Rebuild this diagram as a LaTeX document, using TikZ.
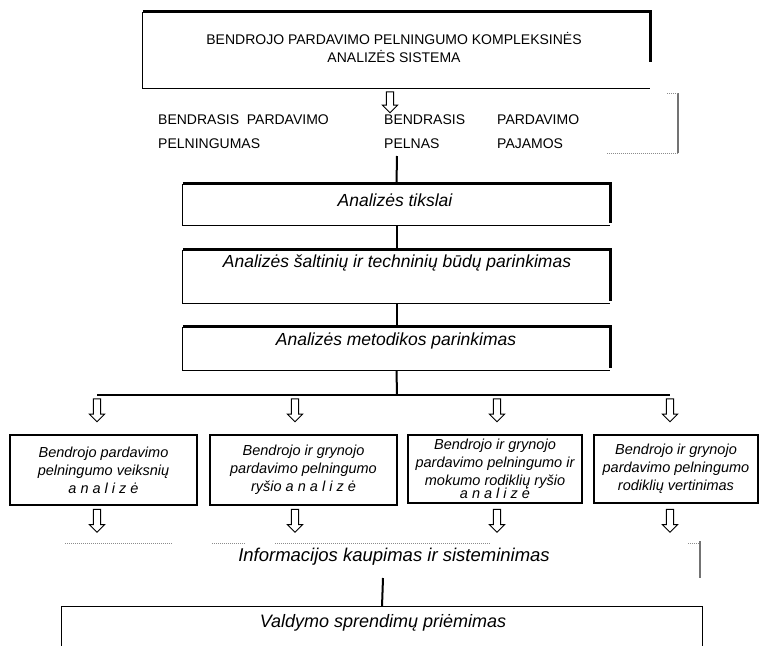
\documentclass[tikz,border=0pt]{standalone}
\usepackage{fontspec}
\setmainfont{Liberation Sans}
\usetikzlibrary{shapes.arrows}
\begin{document}
\begin{tikzpicture}[x=1pt,y=-1pt,
  framebox/.style={draw, line width=0.8pt, inner sep=0pt},
  shadowline/.style={line width=3pt},
  conn/.style={line width=2pt},
  faded/.style={draw=black!45, line width=1pt, densely dotted},
  harrow/.style={single arrow, draw, line width=0.9pt, shape border rotate=270,
     minimum height=#1, inner sep=3.2pt, single arrow head extend=4pt,
     single arrow tip angle=90},
  capstxt/.style={font=\fontsize{14}{18}\selectfont, inner sep=0pt},
  bigit/.style={font=\fontsize{17.5}{20}\selectfont\itshape, inner sep=0pt},
  smallbox/.style={draw, line width=1.1pt, inner sep=0pt, align=center,
     font=\fontsize{14.5}{18}\selectfont\itshape},
]
\useasboundingbox (0,0) rectangle (764,646);

% top box
\node[inner sep=0pt, minimum width=507, minimum height=76] (top) at (396.5,50) {};
\draw[line width=0.8pt] (top.north west) -- (top.south west) -- (top.south east);
\draw[shadowline] (top.north west) -- (top.north east) -- ([yshift=-50]top.north east);
\node[capstxt, align=center] (toptxt) at (394,47)
  {BENDROJO PARDAVIMO PELNINGUMO KOMPLEKSINĖS\\ANALIZĖS SISTEMA};

\node[harrow=21] (ar0) at (390,100.5) {};

% indicator texts
\node[capstxt, anchor=west, align=left, font=\fontsize{14}{24}\selectfont] (t1) at (158,132)
  {BENDRASIS\ \ PARDAVIMO\\PELNINGUMAS};
\node[capstxt, anchor=west, align=left, font=\fontsize{14}{24}\selectfont] (t2) at (384,132)
  {BENDRASIS\\PELNAS};
\node[capstxt, anchor=west, align=left, font=\fontsize{14}{24}\selectfont] (t3) at (497,132)
  {PARDAVIMO\\PAJAMOS};
\coordinate (brtop) at (678,93);
\coordinate (brbot) at (678,153);
\draw[draw=black!55, line width=2pt] (brtop) -- (brbot);
\draw[faded] (brbot) -- (607,153);
\draw[faded] (brtop) -- (666,93);
\coordinate (c1) at (397,156);

% analysis boxes
\node[inner sep=0pt, minimum width=427, minimum height=41] (b1) at (396.5,204.5) {};
\node[inner sep=0pt, minimum width=427, minimum height=53] (b2) at (396.5,276.5) {};
\node[inner sep=0pt, minimum width=427, minimum height=43] (b3) at (396.5,348.5) {};
\foreach \b in {b1,b2,b3}{
  \draw[line width=0.8pt] (\b.north west) -- (\b.south west) -- (\b.south east);
  \draw[shadowline] (\b.north west) -- (\b.north east) -- ([yshift=2]\b.south east);
}
\node[bigit] (b1t) at (395,200) {Analizės tikslai};
\node[bigit] (b2t) at (397,263) {Analizės šaltinių ir techninių būdų parinkimas};
\node[bigit] (b3t) at (396,341) {Analizės metodikos parinkimas};

\draw[conn] (c1) -- (b1.north);
\draw[conn] (b1.south) -- (b2.north);
\draw[conn] (b2.south) -- (b3.north);

% branch
\coordinate (br) at (397,395);
\coordinate (brL) at (97,395);
\coordinate (brR) at (670,395);
\draw[conn] (b3.south) -- (br);
\draw[line width=1.3pt] (brL) -- (brR);

\node[harrow=23] (a1) at (97,408.5) {};
\node[harrow=23] (a2) at (295,408.5) {};
\node[harrow=23] (a3) at (497,408.5) {};
\node[harrow=23] (a4) at (670,408.5) {};

\node[smallbox, minimum width=187, minimum height=70] (sA) at (103.5,470)
  {Bendrojo pardavimo\\pelningumo veiksnių\\a n a l i z ė};
\node[smallbox, minimum width=187, minimum height=70] (sB) at (303.5,470)
  {Bendrojo ir grynojo\\pardavimo pelningumo\\ryšio a n a l i z ė};
\node[smallbox, minimum width=174, minimum height=68] (sC) at (495,469)
  {Bendrojo ir grynojo\\pardavimo pelningumo ir\\mokumo rodiklių ryšio\\[-5pt]a n a l i z ė};
\node[smallbox, minimum width=164, minimum height=68] (sD) at (676,469)
  {Bendrojo ir grynojo\\pardavimo pelningumo\\rodiklių vertinimas};

\node[harrow=23] (d1) at (97,519) {};
\node[harrow=23] (d2) at (295,519) {};
\node[harrow=23] (d3) at (497,519) {};
\node[harrow=23] (d4) at (670,519) {};

% information box (faded)
\node[inner sep=0pt, font=\fontsize{18.5}{22}\selectfont\itshape] (info) at (394,557)
  {Informacijos kaupimas ir sisteminimas};
\draw[faded] (65,543) -- (172,543);
\draw[faded] (212,543) -- (245,543);
\draw[faded] (275,543) -- (490,543);
\draw[faded] (688,543) -- (699,543);
\draw[draw=black!55, line width=2pt] (700,541) -- (700,578);
\coordinate (c2) at (383,578);

% decision box
\node[inner sep=0pt, minimum width=640, minimum height=60] (dec) at (382,637) {};
\draw[line width=1.2pt] (dec.west |- 0,646) -- (dec.north west) -- (dec.north east) -- (dec.east |- 0,646);
\node[inner sep=0pt, font=\fontsize{18}{22}\selectfont\itshape] (dect) at (383,623)
  {Valdymo sprendimų priėmimas};
\draw[conn] (c2) -- (dec.north);
\end{tikzpicture}
\end{document}
